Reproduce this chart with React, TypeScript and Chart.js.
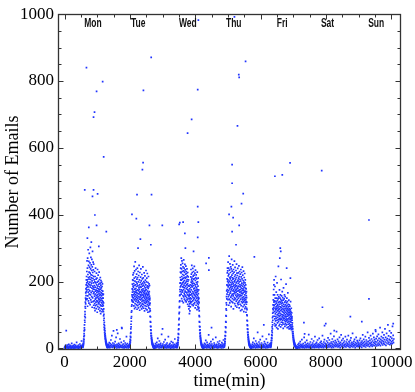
import { useEffect, useRef } from "react";
import { Chart, registerables } from "chart.js";

Chart.register(...registerables);

// ---- axis ticks & labels ----
const xTickLabels = [0, 2000, 4000, 6000, 8000, 10000];
const yTickLabels = [0, 200, 400, 600, 800, 1000];
const xMinorTicks = [0, 500, 1000, 1500, 2000, 2500, 3000, 3500, 4000, 4500, 5000, 5500, 6000, 6500, 7000, 7500, 8000, 8500, 9000, 9500, 10000];
const yMinorTicks = [0, 50, 100, 150, 200, 250, 300, 350, 400, 450, 500, 550, 600, 650, 700, 750, 800, 850, 900, 950, 1000];

// ---- day labels (minute position of each label) ----
const dayNames = ["Mon", "Tue", "Wed", "Thu", "Fri", "Sat", "Sun"];
const dayLabelMinutes = [870, 2255, 3775, 5180, 6665, 8050, 9540];

// ---- busy (working-hour) windows: [first minute, last minute] and per-minute-sample counts ----
const monWindow = [560, 1320];
const monCounts = [
  3, 8, 5, 12, 7, 15, 10, 22, 14, 28, 19, 35, 26, 44,
  52, 38, 61, 70, 55, 84, 96, 78, 110, 102, 125, 92, 138, 120, 150, 133, 166, 145, 178, 158, 190, 170, 205, 148, 215, 182, 196,
  230, 175, 262, 148, 205, 188, 240, 126, 270, 199, 157, 221, 184, 295, 168, 212, 142, 248, 193, 176,
  260, 135, 207, 228, 162, 284, 190, 150, 243, 214, 172, 198, 256, 131, 225, 183, 302, 160, 238, 206,
  145, 272, 189, 220, 167, 250, 138, 211, 195, 233, 155, 266, 180, 202, 123, 244, 171, 218, 290, 151,
  227, 186, 209, 140, 258, 177, 235, 164, 196, 252, 129, 215, 182,
  168, 142, 205, 121, 188, 156, 230, 134, 176, 199, 113, 162, 215, 147, 183, 128, 240, 171, 150, 196,
  138, 207, 119, 174, 158, 225, 143, 190, 131, 167, 210, 152, 180, 108, 198, 160, 236, 141, 172, 125,
  186, 154, 219, 137, 169, 201, 117, 178, 148, 192, 133, 163, 228, 145, 175, 122, 206, 158, 184, 139,
  170, 112, 195, 151, 212, 130, 177, 161, 104, 189, 144, 203, 127, 166, 181, 118, 157, 198, 136, 173,
  149, 110, 185, 142, 164, 126, 193, 150, 132, 171, 115, 160, 140,
  150, 128, 162, 110, 136, 97, 118, 84, 102, 72, 90, 63, 78, 55, 68, 47, 60, 40, 52, 35, 44, 30, 38, 26,
  33, 21, 28, 18, 24, 15, 20, 13, 17, 10, 14, 8, 12, 7, 10, 5, 9, 4, 7, 3, 6, 2, 5,
];

const tueWindow = [1990, 2760];
const tueCounts = [
  4, 9, 6, 14, 10, 20, 13, 27, 18, 36, 24, 45, 33, 58,
  48, 72, 64, 90, 81, 108, 95, 126, 112, 145, 130, 160, 142, 178, 155, 192, 168, 140, 205, 175, 152, 220, 186,
  160, 203, 138, 182, 226, 151, 194, 127, 170, 245, 145, 210, 163, 188, 119, 232, 156, 177, 201, 134,
  168, 259, 148, 190, 123, 214, 161, 179, 141, 236, 172, 153, 198, 130, 185, 222, 146, 166, 207, 117,
  193, 158, 240, 137, 175, 212, 150, 128, 187, 164, 230, 143, 199, 121, 172, 155, 218, 139, 181, 163,
  248, 132, 176, 205, 147, 190, 114, 168, 227, 153, 184, 136, 197, 160, 125, 213, 170, 145, 238, 157,
  182, 129, 202, 166, 149, 192, 118, 175, 221, 140, 161, 186, 133, 208, 152, 171, 124, 195, 244, 144,
  178, 159, 211, 131, 167, 189, 120, 154, 200, 142, 173, 226, 137, 163, 185, 112, 196, 150, 169, 217,
  128, 181, 157, 146, 204, 135, 174, 119, 190, 162, 233, 141, 176, 153, 126, 199, 165, 138, 210, 148,
  115, 183, 160, 224, 132, 171, 187, 143, 158, 108, 197, 152, 179, 127, 166, 215, 139, 184, 121, 162,
  147, 193, 134, 170, 110, 156, 188, 130, 145,
  150, 118, 135, 96, 112, 80, 94, 66, 78, 55, 65, 45, 54, 37, 45, 30, 38, 25, 32, 20, 27, 17, 23, 14, 19,
  12, 16, 10, 14, 8, 12, 7, 10, 5, 9, 4, 7, 3, 6, 2, 5, 3, 4, 2, 3, 1, 2, 1, 2, 1,
];

const wedWindow = [3450, 4250];
const wedCounts = [
  3, 8, 5, 13, 9, 18, 12, 25, 17, 33, 24, 44, 31, 56, 42, 70, 58, 86, 72, 104, 90, 122, 108, 140, 125, 158,
  142, 176, 160, 195, 170, 212, 184, 228, 196, 240, 205,
  250, 188, 226, 162, 270, 204, 175, 238, 149, 215, 192, 262, 168, 230, 141, 207, 185, 254, 172, 221,
  196, 158, 244, 183, 210, 137, 232, 199, 176, 265, 154, 218, 189, 240, 165, 203, 147, 228, 181, 212,
  160, 251, 194, 171, 235, 143, 209, 186, 222, 156, 197, 246, 168, 213, 139, 230, 178, 201, 152, 224,
  190, 166, 238, 145, 206, 182, 217, 160, 193, 132, 227, 175, 200, 149, 214, 169, 187, 126, 205, 158,
  140, 172, 118, 155, 186, 126, 162, 104, 148, 178, 133, 159, 112, 170, 141, 190, 124, 151, 168, 136,
  182, 214, 160, 236, 148, 198, 175, 222, 139, 205, 187, 248, 163, 210, 131, 193, 227, 156, 184, 201,
  142, 239, 170, 195, 152, 216, 128, 188, 165, 230, 146, 207, 178, 133, 219, 161, 194, 245, 150, 180,
  209, 137, 172, 225, 158, 190, 121, 203, 167, 234, 144, 185, 212, 155, 174, 129, 220, 162, 197, 140,
  181, 208, 150, 168, 116, 192, 176, 228, 135, 159, 199, 143, 171, 124, 186, 153, 210, 131, 164, 147,
  118, 175, 140,
  150, 122, 136, 98, 112, 80, 95, 66, 78, 54, 64, 44, 55, 36, 46, 30, 39, 25, 33, 20, 28, 17, 23, 14, 19,
  11, 16, 9, 13, 7, 11, 6, 9, 5, 8, 4, 7, 3, 6, 2, 5, 3, 4, 2, 3, 1, 2,
];

const thuWindow = [4890, 5720];
const thuCounts = [
  4, 9, 6, 14, 10, 21, 15, 29, 20, 38, 28, 50, 37, 64, 48, 80, 62, 98, 78, 118, 96, 136, 114, 155, 130,
  172, 148, 190, 162, 208, 176, 226, 188, 240, 200,
  232, 168, 205, 146, 258, 184, 217, 155, 196, 240, 173, 129, 222, 189, 160, 276, 201, 147, 234, 178,
  212, 136, 190, 253, 165, 208, 182, 143, 227, 197, 170, 244, 153, 214, 186, 125, 238, 175, 203, 158,
  266, 192, 140, 219, 180, 231, 162, 198, 149, 211, 185, 250, 137, 206, 172, 224, 157, 193, 118, 236,
  176, 209, 163, 187, 145, 228, 199, 170, 261, 152, 215, 181, 134, 202, 166, 242, 190, 148, 220, 174,
  127, 207, 185, 159, 233, 168, 196, 141, 212, 177, 252, 154, 188, 123, 225, 171, 200, 146, 218, 163,
  183, 135, 239, 179, 157, 204, 131, 194, 226, 150, 172, 210, 138, 186, 247, 161, 199, 121, 215, 175,
  143, 230, 168, 191, 155, 206, 132, 184, 222, 159, 176, 113, 201, 147, 236, 170, 189, 128, 214, 165,
  180, 140, 227, 158, 195, 116, 208, 173, 151, 243, 136, 186, 163, 219, 145, 178, 125, 203, 167, 192,
  139, 231, 154, 174, 110, 198, 182, 148, 212, 130, 169, 187, 143, 224, 160, 119, 196, 171, 137, 205,
  152, 180, 124, 190, 146, 165, 108, 178, 140, 158, 132, 170,
  152, 120, 138, 100, 116, 84, 98, 70, 82, 58, 68, 48, 57, 40, 48, 33, 41, 27, 35, 22, 30, 18, 25, 15,
  21, 12, 18, 10, 15, 8, 13, 7, 11, 6, 9, 5, 8, 4, 7, 3, 6, 2, 5, 3, 4, 2, 3, 1, 2, 1,
];

const friWindow = [6310, 7130];
const friCounts = [
  3, 7, 5, 11, 8, 16, 12, 23, 17, 31, 24, 40, 30, 52, 38, 64, 47, 78, 58, 92, 70, 105, 84, 118, 96, 130,
  108, 145, 115, 160, 122, 176, 130, 190, 138, 205, 142,
  128, 96, 160, 74, 142, 110, 88, 185, 120, 67, 150, 103, 132, 82, 215, 115, 95, 140, 70, 124,
  168, 90, 108, 135, 62, 150, 118, 84, 196, 127, 100, 143, 76, 112, 160, 93, 130, 58, 121, 148,
  86, 104, 245, 137, 80, 115, 154, 98, 126, 68, 109, 140, 88, 175, 118, 95, 132, 72, 150, 105,
  85, 124, 160, 99, 138, 64, 113, 146, 90, 206, 122, 78, 134, 102, 157, 87, 116, 142, 70, 128,
  95, 170, 110, 83, 136, 100, 152, 76, 119, 92, 144, 60, 125, 108, 181, 88, 132, 98, 115, 72,
  148, 104, 84, 126, 160, 90, 112, 138, 66, 120, 95, 155, 80, 108, 130, 74, 142, 100, 86, 118,
  192, 94, 124, 70, 136, 105, 82, 114, 150, 88, 128, 62, 110, 96, 140, 78, 120, 102, 166, 85,
  116, 72, 132, 98, 106, 64, 124, 90, 144, 80, 112, 58, 100, 130, 74, 118, 92, 108, 68, 126,
  86, 104, 60, 115, 80, 96, 140, 70, 110, 88, 64, 100, 78, 120, 56, 92, 84, 106, 62, 90,
  95, 70, 84, 58, 76, 50, 65, 44, 58, 38, 50, 33, 44, 28, 38, 24, 33, 20, 28, 17, 24, 15, 21, 12, 18,
  10, 16, 9, 14, 8, 12, 7, 10, 6, 9, 5, 8, 4, 7, 3, 6, 3, 5, 2, 4, 2, 3, 1, 3, 2, 4, 1, 2, 3, 1, 2, 1,
];

// ---- quiet (night / weekend) windows ----
const night0Window = [0, 550];
const night0Counts = [
  2, 5, 0, 8, 3, 1, 6, 4, 10, 2, 7, 0, 3, 12, 5, 1, 4, 9, 2, 6, 0, 3, 15, 7, 2, 5, 1, 8,
  4, 0, 11, 3, 6, 2, 9, 1, 4, 18, 5, 2, 7, 3, 0, 10, 6, 2, 4, 13, 1, 5, 8, 3, 22, 6, 9, 4,
];
const night1Window = [1330, 1985];
const night1Counts = [
  6, 12, 3, 9, 17, 5, 2, 14, 8, 25, 4, 11, 38, 7, 3, 16, 9, 52, 5, 13, 2, 8, 20, 4, 10, 33, 6, 1, 12, 7,
  45, 3, 9, 15, 5, 2, 11, 28, 6, 4, 8, 18, 3, 60, 7, 10, 2, 13, 5, 22, 1, 9, 4, 16, 6, 3, 11, 35, 2, 7,
  14, 5, 8, 1, 10, 4, 6,
];
const night2Window = [2765, 3445];
const night2Counts = [
  8, 3, 14, 6, 10, 2, 18, 5, 9, 30, 4, 12, 7, 1, 22, 6, 11, 3, 15, 8, 2, 42, 5, 9, 4, 13, 7, 0, 19, 3,
  10, 6, 26, 2, 8, 12, 4, 1, 16, 5, 9, 3, 35, 7, 2, 11, 6, 14, 4, 0, 8, 20, 3, 10, 5, 2, 17, 6, 9, 1,
  12, 4, 28, 7, 3, 10, 5, 15, 2, 8,
];
const night3Window = [4255, 4885];
const night3Counts = [
  5, 10, 2, 15, 7, 3, 12, 24, 4, 8, 1, 18, 6, 11, 3, 9, 40, 5, 2, 14, 7, 10, 0, 20, 4, 8, 13, 3, 6, 27,
  1, 9, 5, 16, 2, 11, 7, 4, 33, 8, 3, 12, 6, 1, 19, 5, 10, 2, 14, 7, 22, 4, 9, 3, 11, 6, 1, 17, 8, 5,
  13, 2, 25, 10, 4,
];
const night4Window = [5725, 6305];
const night4Counts = [
  7, 3, 12, 5, 18, 2, 9, 30, 6, 14, 4, 10, 1, 22, 8, 3, 15, 6, 11, 48, 2, 9, 5, 19, 7, 13, 3, 26, 4, 10,
  1, 16, 8, 5, 36, 2, 12, 6, 9, 3, 20, 7, 14, 4, 1, 11, 28, 5, 8, 2, 17, 6, 10, 3, 42, 9, 4, 13, 7, 15,
];
const weekendWindow = [7135, 10080];
const weekendCounts = [
  4, 11, 2, 7, 15, 3, 9, 1, 20, 6, 12, 4, 8, 26, 2, 10, 5, 14, 3, 7, 33, 1, 9, 18, 4, 6, 12, 2, 24, 8,
  5, 15, 3, 10, 41, 6, 2, 13, 7, 19, 4, 9, 1, 28, 11, 5, 16, 3, 8, 22, 6, 12, 2, 35, 9, 4, 14, 7, 18, 3,
  10, 25, 5, 13, 8, 2, 30, 11, 6, 17, 4, 9, 21, 3, 14, 7, 38, 5, 12, 2, 19, 8, 26, 6, 15, 4, 10,
  13, 6, 22, 9, 3, 17, 31, 7, 12, 4, 25, 10, 15, 5, 44, 8, 19, 2, 14, 28, 6, 11, 20, 3, 36, 9, 16, 7, 23, 12,
  5, 18, 50, 8, 13, 27, 4, 10, 21, 6, 15, 33, 9, 2, 18, 12, 40, 7, 24, 5, 14, 10, 29, 3, 17, 8, 22, 11, 6, 35,
  13, 4, 19, 9, 26, 15, 7, 12, 38, 5, 20, 10, 16, 3, 24, 8, 31, 13, 6, 18, 11, 45, 4, 15, 9, 21, 7, 27, 12, 2,
  17, 10, 33, 6, 14, 23, 8, 19, 5, 12,
  16, 9, 24, 5, 13, 30, 7, 18, 11, 3, 22, 14, 40, 8, 17, 27, 6, 12, 20, 10, 35, 4, 15, 25, 9, 19, 13, 48, 7, 21,
  11, 31, 16, 5, 24, 14, 38, 9, 18, 28, 12, 6, 22, 44, 10, 17, 33, 8, 26, 15, 20, 55, 11, 29, 7, 19, 36, 13, 24, 9,
  42, 16, 30, 12, 21, 62, 8, 27, 18, 35, 14, 23, 48, 10, 31, 20, 15, 40, 26, 12, 58, 19, 33, 9, 25, 45, 16, 29, 22, 70,
  13, 37, 18, 27, 52, 11, 24, 34, 15, 46, 20, 30, 14, 66, 23, 39, 17, 28,
];

// ---- isolated high values ----
const outlierMinutes = [
  671, 1167, 981, 918, 888, 1198, 619, 888, 856, 1012, 929, 981, 743, 1279, 700, 820, 1050,
  2653, 2415, 2405, 2384, 2219, 2663, 2064, 2198, 2600, 2993, 2322, 2642, 2250, 3508,
  4097, 4077, 3891, 3767, 4077, 3529, 3630, 4096, 3684, 4077, 4418, 4334, 4418, 3700, 3950,
  5201, 5542, 5334, 5346, 5294, 5130, 5130, 5470, 5108, 5418, 5037, 5161, 5130, 5346, 5811, 5250,
  6904, 6440, 6666, 6604, 6620, 6590, 6914, 6800,
  7873, 9319, 9319, 7895, 7997, 7960, 8257, 7328, 7350, 10062, 9526, 8750, 9100,
  52, 1600, 1750, 3000, 4500, 6100,
];
const outlierCounts = [
  840, 798, 769, 707, 692, 573, 474, 474, 455, 462, 399, 368, 362, 349, 330, 318, 305,
  871, 772, 556, 535, 460, 460, 401, 388, 368, 368, 327, 310, 300, 371,
  982, 774, 685, 644, 424, 376, 378, 378, 344, 332, 271, 254, 234, 300, 290,
  992, 859, 819, 811, 666, 550, 494, 463, 424, 433, 401, 391, 349, 368, 274, 310,
  555, 515, 519, 300, 290, 270, 210, 240,
  532, 384, 148, 123, 74, 68, 53, 77, 43, 74, 51, 95, 80,
  53, 55, 62, 58, 62, 70,
];

const POINT_COLOR = "#1f33ff";
const FRAME_COLOR = "#333333";
const SERIF = '"Liberation Serif", "Times New Roman", serif';

Chart.defaults.font.family = SERIF;

function spread(win: number[], counts: number[]) {
  const n = counts.length;
  return counts.map((y, i) => ({ x: win[0] + (i * (win[1] - win[0])) / (n - 1), y }));
}

const framePlugin = {
  id: "frameTicks",
  afterDatasetsDraw(chart: any) {
    const { ctx, chartArea } = chart;
    const xs = chart.scales.x;
    const ys = chart.scales.y;
    const l = Math.round(chartArea.left) + 0.5;
    const r = Math.round(chartArea.right) - 0.5;
    const t = Math.round(chartArea.top) + 0.5;
    const b = Math.round(chartArea.bottom) - 0.5;
    ctx.save();
    ctx.strokeStyle = FRAME_COLOR;
    ctx.lineWidth = 1;
    ctx.beginPath();
    xMinorTicks.forEach((v) => {
      const px = Math.round(xs.getPixelForValue(v)) + 0.5;
      const len = xTickLabels.includes(v) ? 5 : 3;
      ctx.moveTo(px, b);
      ctx.lineTo(px, b - len);
      ctx.moveTo(px, t);
      ctx.lineTo(px, t + len);
    });
    yMinorTicks.forEach((v) => {
      const py = Math.round(ys.getPixelForValue(v)) + 0.5;
      const len = yTickLabels.includes(v) ? 5 : 3;
      ctx.moveTo(l, py);
      ctx.lineTo(l + len, py);
      ctx.moveTo(r, py);
      ctx.lineTo(r - len, py);
    });
    ctx.stroke();
    ctx.lineWidth = 1.3;
    ctx.strokeRect(l, t, r - l, b - t);
    // day labels
    ctx.fillStyle = "#111";
    ctx.font = 'bold 12.5px "Liberation Sans", Arial, sans-serif';
    ctx.textAlign = "center";
    ctx.textBaseline = "middle";
    dayNames.forEach((name, i) => {
      const px = xs.getPixelForValue(dayLabelMinutes[i]);
      ctx.save();
      ctx.translate(px, 24);
      ctx.scale(0.68, 1);
      ctx.fillText(name, 0, 0);
      ctx.restore();
    });
    ctx.restore();
  },
};

export default function App() {
  const ref = useRef<HTMLCanvasElement | null>(null);
  useEffect(() => {
    if (!ref.current) return;
    const points = [
      ...spread(night0Window, night0Counts),
      ...spread(night1Window, night1Counts),
      ...spread(night2Window, night2Counts),
      ...spread(night3Window, night3Counts),
      ...spread(night4Window, night4Counts),
      ...spread(weekendWindow, weekendCounts),
      ...spread(monWindow, monCounts),
      ...spread(tueWindow, tueCounts),
      ...spread(wedWindow, wedCounts),
      ...spread(thuWindow, thuCounts),
      ...spread(friWindow, friCounts),
      ...outlierMinutes.map((x, i) => ({ x, y: outlierCounts[i] })),
    ];
    const chart = new Chart(ref.current, {
      type: "scatter",
      data: {
        datasets: [
          {
            label: "emails",
            data: points,
            backgroundColor: POINT_COLOR,
            borderWidth: 0,
            pointRadius: 1.2,
            pointStyle: "rect",
            pointHoverRadius: 1.2,
          },
        ],
      },
      options: {
        animation: false,
        responsive: false,
        events: [],
        layout: { padding: { top: 8, right: 14, left: 0, bottom: 0 } },
        plugins: { legend: { display: false }, tooltip: { enabled: false } },
        scales: {
          x: {
            type: "linear",
            min: -200,
            max: 10300,
            border: { display: false },
            grid: { display: false, drawTicks: false },
            afterBuildTicks: (scale: any) => {
              scale.ticks = xTickLabels.map((v) => ({ value: v }));
            },
            afterFit: (scale: any) => {
              scale.height = 42;
            },
            ticks: {
              autoSkip: false,
              maxRotation: 0,
              padding: 2,
              color: "#000",
              font: { family: SERIF, size: 17 },
              callback: (v: any) => String(v),
            },
            title: {
              display: true,
              text: "time(min)",
              color: "#000",
              font: { family: SERIF, size: 18 },
              padding: { top: 0, bottom: 0 },
            },
          },
          y: {
            type: "linear",
            min: -5,
            max: 1000,
            border: { display: false },
            grid: { display: false, drawTicks: false },
            afterBuildTicks: (scale: any) => {
              scale.ticks = yTickLabels.map((v) => ({ value: v }));
            },
            afterFit: (scale: any) => {
              scale.width = 58;
            },
            ticks: {
              autoSkip: false,
              padding: 4,
              color: "#000",
              font: { family: SERIF, size: 17 },
              callback: (v: any) => String(v),
            },
            title: {
              display: true,
              text: "Number of Emails",
              color: "#000",
              font: { family: SERIF, size: 18 },
              padding: { top: 2, bottom: 0 },
            },
          },
        },
      },
      plugins: [framePlugin],
    });
    return () => chart.destroy();
  }, []);
  return (
    <div style={{ position: "fixed", left: 0, top: 0, width: 415, height: 392, background: "#fff" }}>
      <canvas ref={ref} width={415} height={392} style={{ display: "block" }} />
    </div>
  );
}
